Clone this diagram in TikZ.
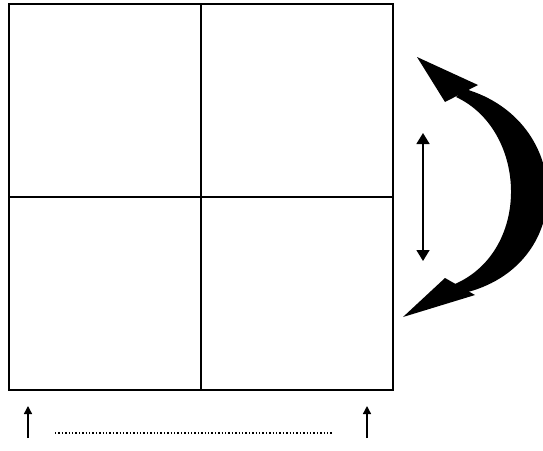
\documentclass[tikz,border=0pt]{standalone}
\usepackage{tikz}
\usetikzlibrary{arrows.meta,positioning}

\begin{document}
\begin{tikzpicture}[
  x=1pt, y=-1pt,
  node distance=0pt,
  cell/.style={draw=black, line width=2.2pt, minimum width=192pt,
    minimum height=193pt, inner sep=0pt, outer sep=0pt},
  swap/.style={{Triangle[length=11pt,width=13pt]}-{Triangle[length=11pt,width=13pt]}, line width=1.6pt},
  lift/.style={-{Triangle[length=8pt,width=8pt]}, line width=1.4pt},
  span/.style={line width=1.4pt, dotted}
]
\useasboundingbox (0,0) rectangle (543,450);
% grid of four cells
\node[cell] (topleft) at (105,100.5) {};
\node[cell, right=of topleft] (topright) {};
\node[cell, below=of topleft] (botleft) {};
\node[cell, right=of botleft] (botright) {};
% curved turning arrow
\begin{scope}
\clip (0,0) rectangle (543,450);
\fill (465,89) .. controls (572,120) and (577,262) .. (468,292)
  -- (455,284) .. controls (532,250) and (527,130) .. (456,97) -- cycle;
\fill (417,57) -- (445,102) -- (478,85) -- cycle;
\fill (403,317) -- (445,278) -- (475,295) -- cycle;
\end{scope}
% vertical swap arrow
\coordinate (swaptop) at (423,133);
\coordinate (swapbot) at (423,261);
\draw[swap] (swaptop) -- (swapbot);
% bottom arrows and dotted line
\coordinate (leftfoot) at (28,438);
\coordinate (lefthead) at (28,406);
\coordinate (rightfoot) at (367,438);
\coordinate (righthead) at (367,406);
\draw[lift] (leftfoot) -- (lefthead);
\draw[lift] (rightfoot) -- (righthead);
\coordinate (dotstart) at (55,433);
\coordinate (dotend) at (332,433);
\draw[span] (dotstart) -- (dotend);
\end{tikzpicture}
\end{document}
